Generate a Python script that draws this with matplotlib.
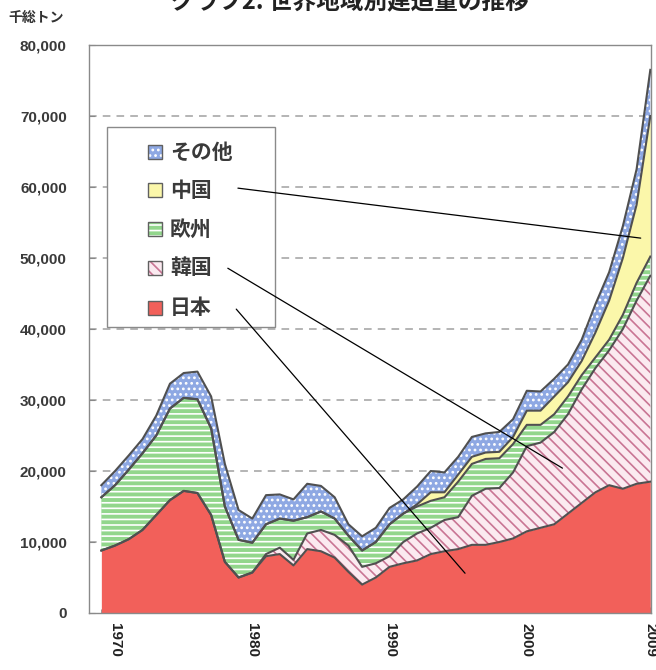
import numpy as np
import matplotlib
matplotlib.use("Agg")
from matplotlib import pyplot as plt
from matplotlib.patches import Rectangle
from matplotlib.ticker import FuncFormatter

plt.rcParams['font.family'] = ['Liberation Sans', 'Noto Sans CJK JP']
plt.rcParams['hatch.linewidth'] = 1.2
CJK = ['Noto Sans CJK JP', 'DejaVu Sans']

# data (thousand gross tons)
years = list(range(1969, 2010))
japan = [8800, 9500, 10400, 11700, 13800, 15900, 17200, 16900, 13800, 7200,
         5000, 5700, 8000, 8300, 6700, 9000, 8700, 7800, 5800, 4000,
         5000, 6500, 7000, 7400, 8300, 8700, 9000, 9600, 9600, 10000,
         10500, 11500, 12000, 12500, 14000, 15500, 17000, 18000, 17500, 18200,
         18500]
korea = [0, 0, 0, 0, 0, 0, 0, 0, 0, 0,
         0, 0, 300, 900, 800, 2200, 3000, 3200, 3700, 2500,
         2000, 1500, 3000, 3800, 3700, 4400, 4500, 6900, 7900, 7600,
         9300, 12000, 12000, 13000, 14000, 16000, 17500, 19000, 22500, 25800,
         29000]
europe = [7500, 8500, 9800, 10800, 11200, 12900, 13100, 13200, 12200, 7800,
          5300, 4200, 4200, 4100, 5500, 2300, 2600, 2300, 1400, 2300,
          3000, 4500, 4000, 3800, 3800, 3200, 5000, 4500, 4200, 4200,
          4000, 3000, 2500, 2500, 2500, 2000, 1500, 1500, 2000, 2500,
          2700]
china = [0, 0, 0, 0, 0, 0, 0, 0, 0, 0,
         0, 0, 0, 0, 0, 0, 0, 0, 0, 0,
         0, 0, 0, 300, 1200, 700, 1000, 1000, 900, 900,
         1000, 2000, 2000, 2500, 2000, 2000, 3500, 5500, 8000, 11000,
         19800]
others = [1700, 2000, 2000, 2000, 2800, 3500, 3500, 3900, 4500, 6000,
          4200, 3400, 4100, 3400, 3000, 4700, 3600, 3000, 1600, 2000,
          2000, 2300, 2000, 2500, 3000, 2800, 2500, 2800, 2700, 2800,
          2500, 2800, 2700, 2500, 2500, 3000, 4000, 4000, 4500, 5000,
          6500]

names = ['日本', '韓国', '欧州', '中国', 'その他']
series = [japan, korea, europe, china, others]
# facecolor, hatch colour, hatch
styles = [('#f2605a', '#f2605a', None),
          ('#fbeaf0', '#c97594', '\\\\\\'),
          ('#92d68c', 'white', '---'),
          ('#fbf7aa', '#fbf7aa', None),
          ('#8ea8e3', 'white', '...')]

fig = plt.figure(figsize=(6.56, 6.70), dpi=100)
ax = fig.add_axes([89 / 656, 1 - 613 / 670, 562 / 656, 568 / 670])

# stacked areas
x = np.array(years)
lower = np.zeros(len(years))
tops = []
for vals, (fc, hc, hatch) in zip(series, styles):
    upper = lower + np.array(vals)
    ax.fill_between(x, lower, upper, facecolor=fc, edgecolor=hc, hatch=hatch,
                    linewidth=0, zorder=2)
    tops.append(upper)
    lower = upper
for top in tops:
    ax.plot(x, top, color='#505050', lw=1.5, zorder=3)

ax.set_xlim(1968.1, 2009.05)
ax.set_ylim(0, 80000)
ax.set_yticks(range(0, 80001, 10000))
ax.yaxis.set_major_formatter(FuncFormatter(lambda v, p: f'{int(v):,}'))
ax.set_xticks([1970, 1980, 1990, 2000, 2009])
ax.set_xticks(years, minor=True)
for yv in range(10000, 80000, 10000):
    ax.axhline(yv, color='#a0a0a0', lw=1.1, ls=(0, (5, 4)), zorder=1)

ax.tick_params(axis='y', direction='in', length=4, color='#888888', pad=16,
               labelsize=11, labelcolor='#3a3a3a')
ax.tick_params(axis='x', which='major', direction='in', length=4, color='#888888',
               pad=7, labelsize=11, labelcolor='#222222', labelrotation=-90)
ax.tick_params(axis='x', which='minor', direction='in', length=3, color='#888888')
for lab in ax.get_yticklabels() + ax.get_xticklabels():
    lab.set_fontweight('bold')
for sp in ax.spines.values():
    sp.set_color('#8a8a8a')
    sp.set_linewidth(1.0)

# legend box drawn by hand
ax.add_patch(Rectangle((0.032, 0.5035), 0.299, 0.352, transform=ax.transAxes,
                       facecolor='white', edgecolor='#8a8a8a', lw=1.0, zorder=5))
row_y = [0.537, 0.6074, 0.676, 0.7447, 0.8116]
for name, (fc, hc, hatch), ry in zip(names, styles, row_y):
    ax.add_patch(Rectangle((0.105, ry - 0.0123), 0.0249, 0.0246, transform=ax.transAxes,
                           facecolor=fc, edgecolor=hc, hatch=hatch, lw=0, zorder=6))
    ax.add_patch(Rectangle((0.105, ry - 0.0123), 0.0249, 0.0246, transform=ax.transAxes,
                           facecolor='none', edgecolor='#606060', lw=1.0, zorder=7))
    ax.text(0.144, ry, name, transform=ax.transAxes, family=CJK, fontsize=15,
            fontweight='bold', color='#3a3a3a', va='center', ha='left', zorder=7)

# leader lines from the legend labels
leaders = [((0.265, 0.748), (2008.3, 52800)),
           ((0.247, 0.607), (2002.6, 20400)),
           ((0.262, 0.535), (1995.5, 5600))]
for start, end in leaders:
    ax.annotate('', xy=end, xycoords='data', xytext=start, textcoords='axes fraction',
                arrowprops=dict(arrowstyle='-', color='black', lw=0.9,
                                shrinkA=0, shrinkB=0), zorder=8)

fig.text(8 / 656, 1 - 18 / 670, '千総トン', family=CJK, fontsize=10,
         fontweight='bold', color='#333333', ha='left', va='center')
fig.text(350 / 656, 0.997, 'グラフ2. 世界地域別建造量の推移', family=CJK, fontsize=17,
         fontweight='bold', color='#222222', ha='center', va='center')

fig.savefig('out.png', dpi=100)
